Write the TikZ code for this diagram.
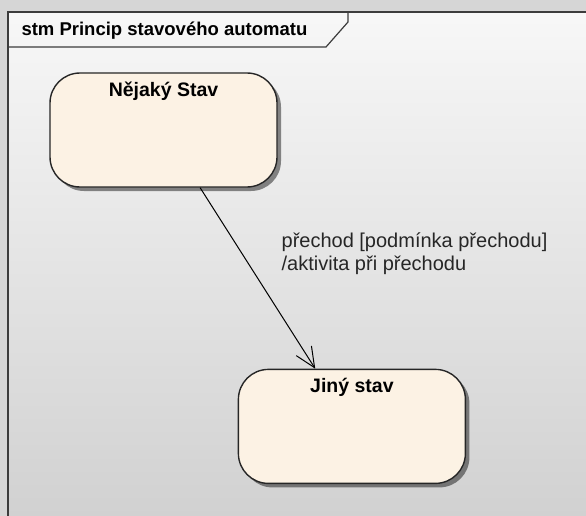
\documentclass[tikz,border=0pt]{standalone}
\usepackage{fontspec}
\setmainfont{Liberation Sans}
\usepackage{xcolor}
\usetikzlibrary{arrows.meta, positioning, shadows}

\definecolor{statefill}{RGB}{252,242,228}
\definecolor{framegray}{RGB}{60,60,60}

\tikzset{
  state/.style={draw=black!85, line width=1.4pt, fill=statefill, rounded corners=30pt,
    minimum width=227pt, minimum height=114pt,
    drop shadow={shadow xshift=4pt, shadow yshift=-4pt, fill=black, opacity=0.45}},
  statename/.style={font=\fontsize{19.5}{23}\selectfont\bfseries, anchor=base, yshift=-24pt},
  guard/.style={font=\fontsize{20}{23}\selectfont, text=black!85, align=left, inner sep=0pt},
  transition/.style={line width=1pt, -{Straight Barb[length=20pt, width=18pt]}}
}

\begin{document}
\begin{tikzpicture}[x=1pt, y=-1pt]
\useasboundingbox (0,0) rectangle (586,516);
\fill[black!16] (0,0) rectangle (586,516);
\shade[top color=black!3, bottom color=black!18] (8,12) rectangle (586,516);
\draw[framegray, line width=1.4pt] (8,516) -- (8,12) -- (586,12);
\draw[framegray, line width=1.2pt] (348,12) -- (348,22) -- (326,47) -- (8,47);
\node[anchor=base west, font=\fontsize{18.5}{22}\selectfont\bfseries] (title) at (18,36) {stm Princip stavového automatu};

\node[state, label={[statename]north:Nějaký Stav}] (nejaky) at (163.5,130) {};
\node[state, below right=181pt and -40pt of nejaky, label={[statename]north:Jiný stav}] (jiny) {};

\draw[transition] (nejaky) -- node[guard, pos=0.365, right=39pt] (guardtext) {přechod [podmínka přechodu]\\/aktivita při přechodu} (jiny);
\end{tikzpicture}
\end{document}
